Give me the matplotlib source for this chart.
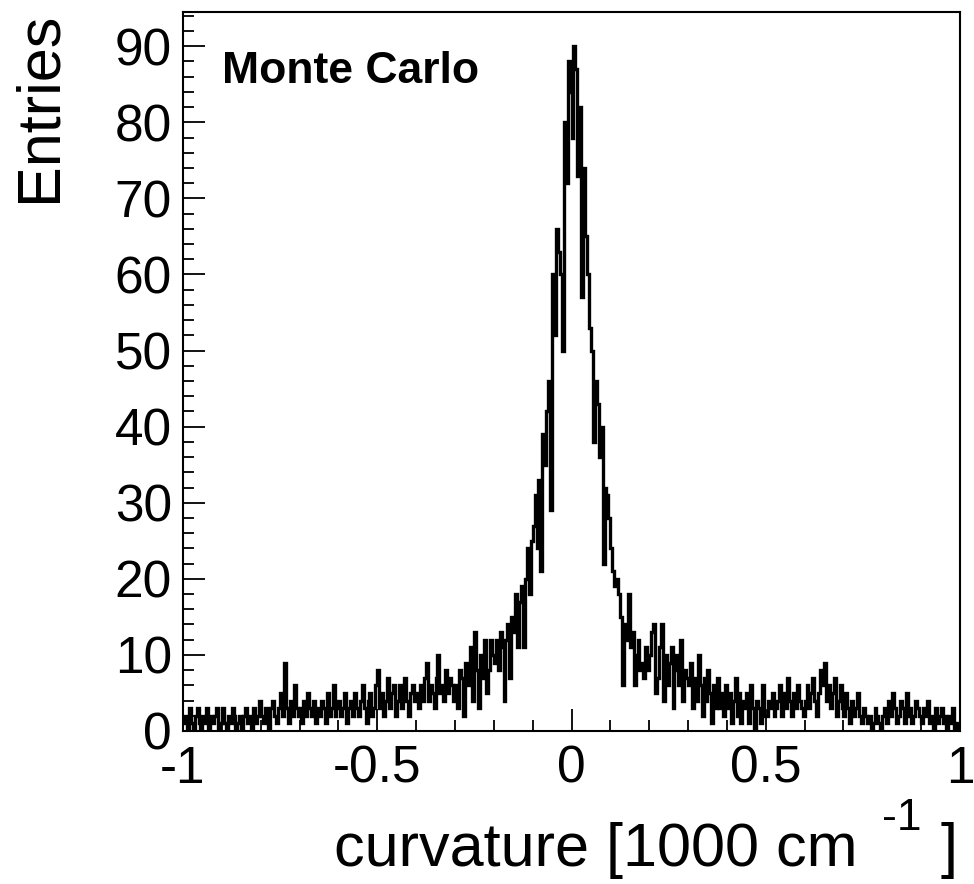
import numpy as np
import matplotlib
matplotlib.use("Agg")
import matplotlib.pyplot as plt
from matplotlib.ticker import MultipleLocator

plt.rcParams['font.family'] = ['Liberation Sans', 'DejaVu Sans']

# histogram: 400 bins from -1 to 1 (bin width 0.005)
x_min, x_max = -1.0, 1.0
counts = [
    1, 2, 0, 3, 1, 0, 2, 3, 1, 0,
    2, 1, 3, 0, 2, 1, 2, 3, 0, 1,
    3, 1, 0, 2, 1, 3, 2, 0, 1, 2,
    0, 2, 3, 1, 2, 0, 3, 1, 2, 4,
    2, 1, 3, 2, 0, 3, 4, 2, 1, 3,
    5, 2, 9, 3, 1, 4, 2, 6, 3, 2,
    3, 1, 4, 2, 5, 3, 2, 4, 1, 3,
    2, 4, 3, 1, 5, 2, 3, 6, 2, 3,
    4, 2, 3, 5, 1, 3, 4, 2, 5, 3,
    2, 4, 6, 3, 1, 4, 5, 2, 3, 6,
    8, 3, 5, 2, 4, 7, 3, 5, 6, 2,
    4, 6, 3, 5, 7, 4, 2, 5, 6, 4,
    5, 3, 6, 4, 7, 9, 4, 6, 5, 3,
    7, 10, 5, 6, 4, 8, 5, 7, 6, 4,
    6, 3, 8, 7, 2, 9, 6, 8, 11, 4,
    13, 8, 3, 10, 7, 12, 5, 8, 12, 10,
    9, 12, 8, 13, 11, 4, 12, 14, 7, 15,
    13, 18, 11, 17, 19, 11, 20, 24, 18, 25,
    27, 31, 24, 33, 21, 39, 35, 42, 46, 29,
    60, 52, 66, 63, 60, 50, 80, 72, 88, 84,
    78, 90, 87, 73, 82, 57, 74, 65, 60, 53,
    50, 38, 46, 43, 36, 40, 22, 32, 31, 28,
    24, 21, 19, 20, 18, 15, 6, 14, 12, 18,
    11, 13, 6, 10, 12, 8, 9, 7, 11, 8,
    10, 13, 14, 5, 7, 11, 14, 4, 10, 6,
    9, 11, 3, 8, 10, 6, 12, 4, 8, 7,
    6, 9, 3, 7, 4, 10, 6, 2, 7, 4,
    8, 5, 1, 6, 3, 7, 3, 5, 2, 6,
    3, 5, 1, 4, 7, 2, 5, 1, 4, 3,
    5, 1, 6, 3, 0, 4, 3, 1, 6, 2,
    2, 4, 3, 5, 2, 3, 4, 6, 2, 5,
    3, 7, 4, 2, 5, 3, 6, 4, 3, 2,
    4, 6, 3, 5, 7, 4, 2, 5, 8, 6,
    9, 4, 6, 3, 5, 7, 2, 4, 6, 3,
    2, 5, 3, 1, 4, 2, 3, 5, 2, 1,
    3, 2, 1, 2, 0, 1, 3, 2, 1, 0,
    2, 3, 1, 4, 2, 5, 3, 1, 2, 4,
    3, 1, 5, 2, 3, 1, 2, 4, 3, 2,
    1, 3, 2, 4, 1, 2, 0, 3, 1, 2,
    3, 1, 2, 0, 2, 1, 3, 0, 1, 0,
]
x_ticks = [-1, -0.5, 0, 0.5, 1]
x_tick_labels = ["-1", "-0.5", "0", "0.5", "1"]
y_ticks = [0, 10, 20, 30, 40, 50, 60, 70, 80, 90]

W, H = 974, 884
fig = plt.figure(figsize=(W / 100, H / 100), dpi=100)
ax = fig.add_axes([183 / W, 1 - 731 / H, (960 - 183) / W, (731 - 12) / H])

edges = np.linspace(x_min, x_max, len(counts) + 1)
ax.stairs(counts, edges, color='black', linewidth=2.4, baseline=None)

ax.set_xlim(x_min, x_max)
ax.set_ylim(0, 94.5)
ax.set_xticks(x_ticks)
ax.set_xticklabels(x_tick_labels)
ax.set_yticks(y_ticks)
ax.xaxis.set_minor_locator(MultipleLocator(0.1))
ax.yaxis.set_minor_locator(MultipleLocator(2))
ax.tick_params(which='both', direction='in', labelsize=37, width=1.3,
               top=False, right=False)
ax.tick_params(which='major', length=16)
ax.tick_params(axis='x', which='major', pad=10)
ax.tick_params(axis='y', which='major', pad=8)
ax.tick_params(which='minor', length=8)
for s in ax.spines.values():
    s.set_linewidth(1.5)

# labels
fig.text(40 / W, 1 - 12 / H, "Entries", rotation=90, ha='center', va='top',
         fontsize=44)

fig.canvas.draw()
r = fig.canvas.get_renderer()
t_br = fig.text(958 / W, 1 - 866 / H, "]", ha='right', va='baseline', fontsize=44)
bb = t_br.get_window_extent(r)
t_sup = fig.text((bb.x0 - 20) / W, 1 - 830 / H, "-1", ha='right', va='baseline',
                 fontsize=32)
bb2 = t_sup.get_window_extent(r)
fig.text((bb2.x0 - 24) / W, 1 - 866 / H, "curvature [1000 cm", ha='right',
         va='baseline', fontsize=44)

fig.text(222 / W, 1 - 83 / H, "Monte Carlo", ha='left', va='baseline',
         fontsize=32, fontweight='bold')

fig.savefig("out.png", dpi=100)
